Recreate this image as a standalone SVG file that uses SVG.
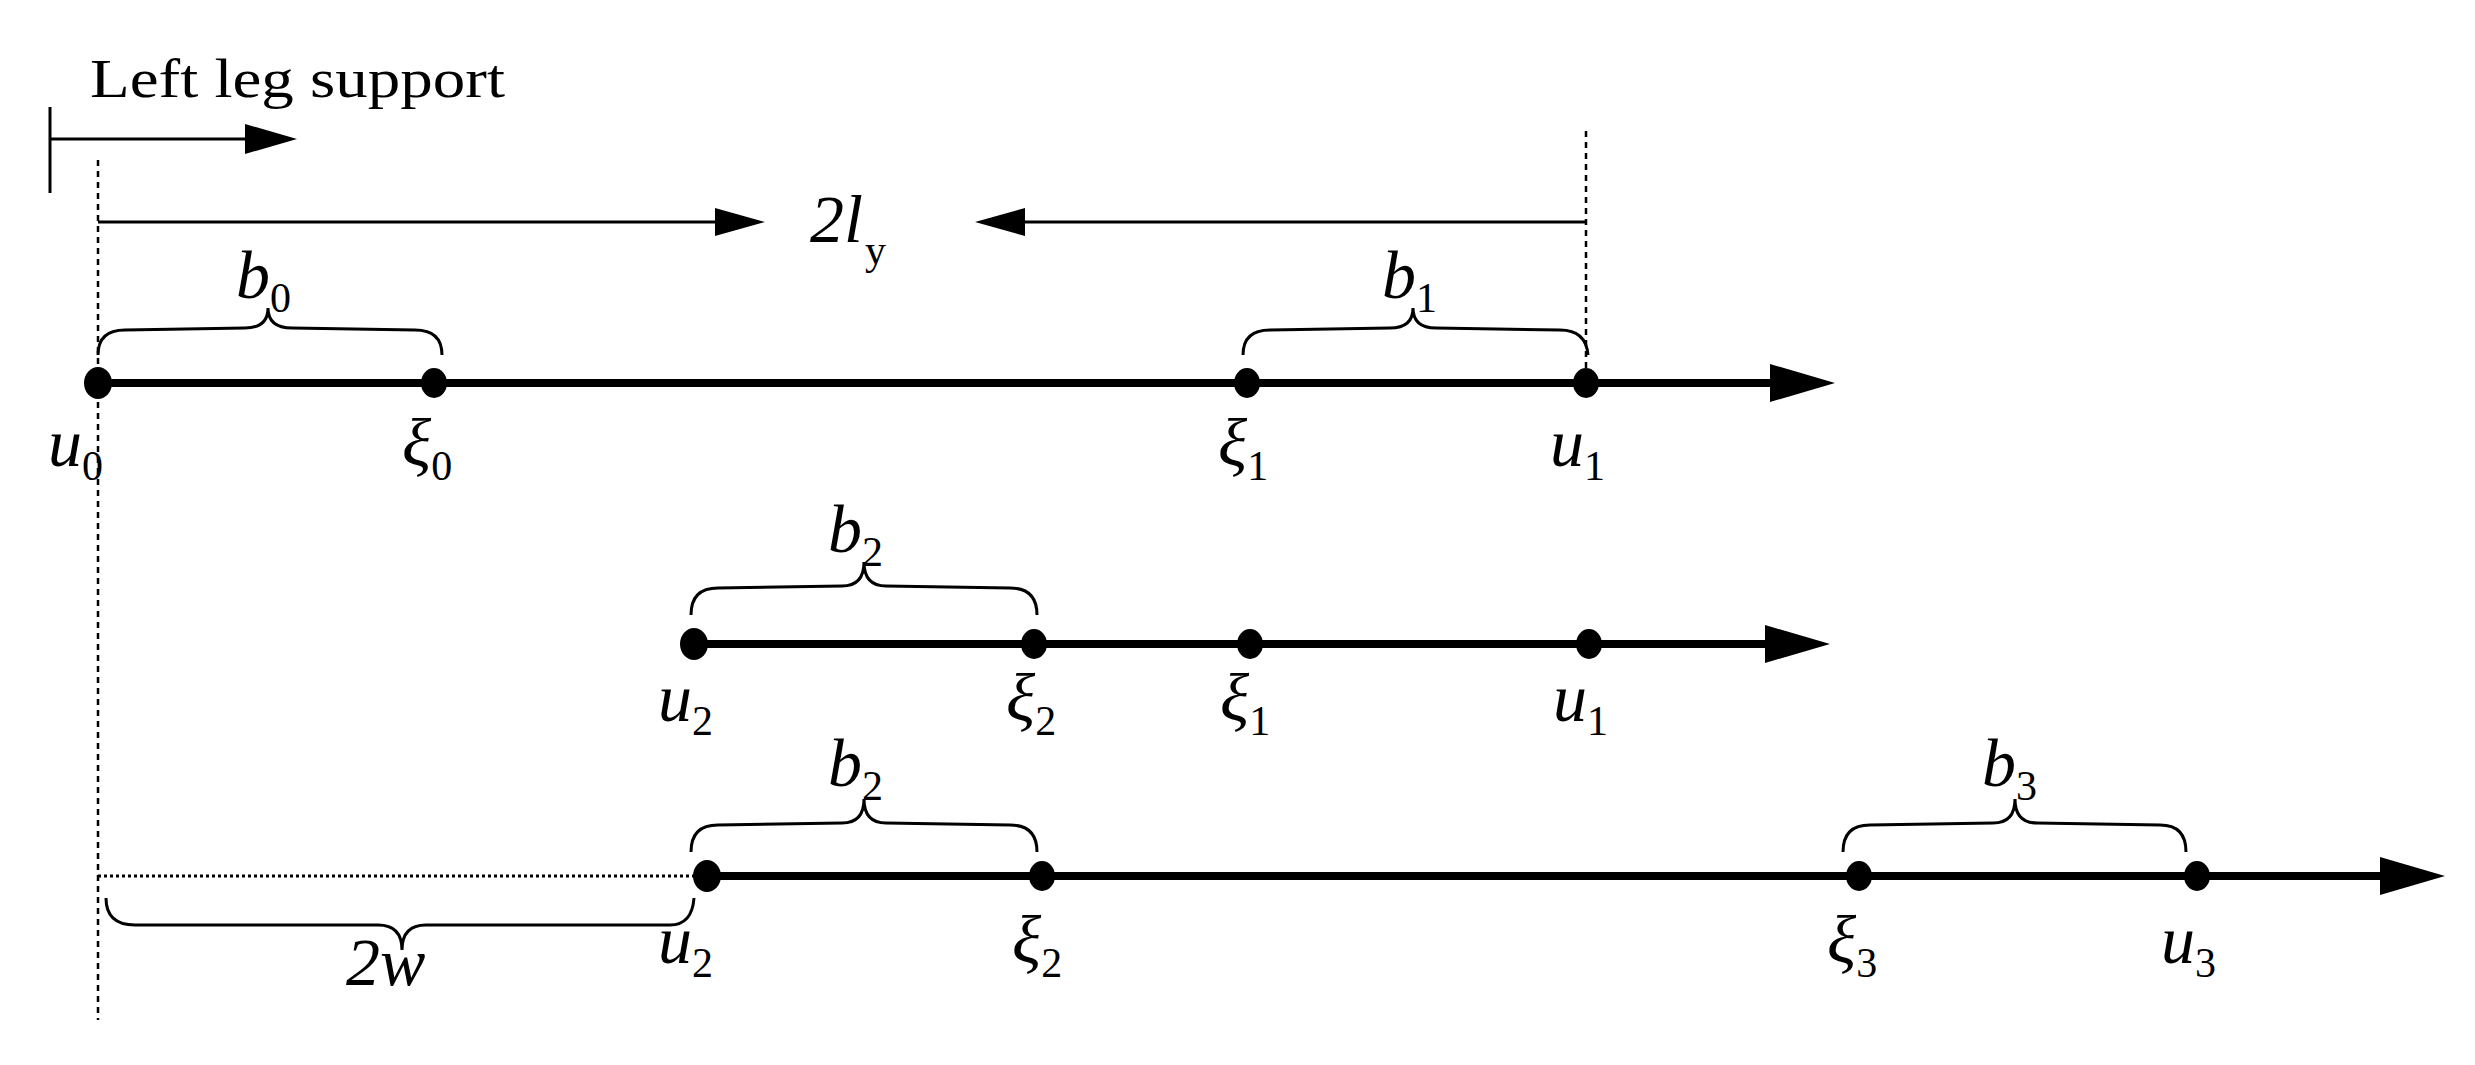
<svg xmlns="http://www.w3.org/2000/svg" width="2475" height="1065" viewBox="0 0 2475 1065">
<style>
.thin{stroke:#000;stroke-width:3;fill:none}
.axis{stroke:#000;stroke-width:8;fill:none}
.dot{stroke:#000;stroke-width:2.5;stroke-dasharray:6 5;fill:none}
.brace{stroke:#000;stroke-width:3;fill:none}
.m{font-family:"Liberation Serif",serif;font-style:italic;font-size:68px}
.s{font-family:"Liberation Serif",serif;font-size:42px;font-style:normal}
.t{font-family:"Liberation Serif",serif;font-size:54px}
.pt{fill:#000}
</style>
<rect width="2475" height="1065" fill="#fff"/>
<g id="connectors">
<line class="thin" x1="50" y1="107" x2="50" y2="193"/>
<line class="thin" x1="50" y1="139" x2="250" y2="139"/>
<path d="M245,124 L297,139 L245,154 Z"/>
<line class="dot" x1="98" y1="160" x2="98" y2="1020"/>
<line class="dot" x1="1586" y1="131" x2="1586" y2="383"/>
<line class="thin" x1="98" y1="222" x2="720" y2="222"/>
<path d="M715,208 L765,222 L715,236 Z"/>
<line class="thin" x1="1020" y1="222" x2="1586" y2="222"/>
<path d="M1025,208 L975,222 L1025,236 Z"/>
<line class="axis" x1="98" y1="383" x2="1780" y2="383"/>
<path d="M1770,364 L1835,383 L1770,402 Z"/>
<line class="axis" x1="694" y1="644" x2="1775" y2="644"/>
<path d="M1765,625 L1830,644 L1765,663 Z"/>
<line class="axis" x1="707" y1="876" x2="2390" y2="876"/>
<path d="M2380,857 L2445,876 L2380,895 Z"/>
<line x1="98" y1="876" x2="707" y2="876" stroke="#000" stroke-width="3" stroke-dasharray="3 3"/>
<path class="brace" d="M98,355 Q98,330 125,330 L245,328 Q268,328 268,308 Q268,328 292,328 L415,330 Q442,330 442,355"/>
<path class="brace" d="M1243,355 Q1243,330 1270,330 L1390,328 Q1413,328 1413,308 Q1413,328 1436,328 L1560,330 Q1586,330 1588,355"/>
<path class="brace" d="M691,615 Q691,588 718,588 L842,586 Q864,586 864,562 Q864,586 886,586 L1010,588 Q1037,588 1037,615"/>
<path class="brace" d="M691,852 Q691,825 718,825 L842,823 Q864,823 864,799 Q864,823 886,823 L1010,825 Q1037,825 1037,852"/>
<path class="brace" d="M1843,852 Q1843,825 1870,825 L1993,823 Q2015,823 2015,799 Q2015,823 2037,823 L2160,825 Q2186,825 2186,852"/>
<path class="brace" d="M106,898 Q106,925 135,925 L378,925 Q402,925 402,950 Q402,925 426,925 L670,925 Q692,925 694,898"/>
</g>
<g id="nodes">
<ellipse class="pt" cx="98" cy="383" rx="14" ry="16"/>
<ellipse class="pt" cx="434" cy="383" rx="13" ry="15"/>
<ellipse class="pt" cx="1247" cy="383" rx="13" ry="15"/>
<ellipse class="pt" cx="1586" cy="383" rx="13" ry="15"/>
<ellipse class="pt" cx="694" cy="644" rx="14" ry="16"/>
<ellipse class="pt" cx="1034" cy="644" rx="13" ry="15"/>
<ellipse class="pt" cx="1250" cy="644" rx="13" ry="15"/>
<ellipse class="pt" cx="1589" cy="644" rx="13" ry="15"/>
<ellipse class="pt" cx="707" cy="876" rx="14" ry="16"/>
<ellipse class="pt" cx="1042" cy="876" rx="13" ry="15"/>
<ellipse class="pt" cx="1859" cy="876" rx="13" ry="15"/>
<ellipse class="pt" cx="2197" cy="876" rx="13" ry="15"/>
</g>
<g id="labels">
<text class="t" x="90" y="97" textLength="415" lengthAdjust="spacingAndGlyphs">Left leg support</text>
<text class="m" x="810" y="242">2l<tspan class="s" font-style="italic" dx="2" dy="22">y</tspan></text>
<text class="m" x="236" y="298">b<tspan class="s" dy="14">0</tspan></text>
<text class="m" x="1382" y="298">b<tspan class="s" dy="14">1</tspan></text>
<text class="m" x="828" y="552">b<tspan class="s" dy="14">2</tspan></text>
<text class="m" x="828" y="786">b<tspan class="s" dy="14">2</tspan></text>
<text class="m" x="1982" y="786">b<tspan class="s" dy="14">3</tspan></text>
<text class="m" x="48" y="466">u<tspan class="s" dy="14">0</tspan></text>
<text class="m" x="402" y="466">ξ<tspan class="s" dy="14">0</tspan></text>
<text class="m" x="1218" y="466">ξ<tspan class="s" dy="14">1</tspan></text>
<text class="m" x="1550" y="466">u<tspan class="s" dy="14">1</tspan></text>
<text class="m" x="658" y="721">u<tspan class="s" dy="14">2</tspan></text>
<text class="m" x="1006" y="721">ξ<tspan class="s" dy="14">2</tspan></text>
<text class="m" x="1220" y="721">ξ<tspan class="s" dy="14">1</tspan></text>
<text class="m" x="1553" y="721">u<tspan class="s" dy="14">1</tspan></text>
<text class="m" x="658" y="963">u<tspan class="s" dy="14">2</tspan></text>
<text class="m" x="1012" y="963">ξ<tspan class="s" dy="14">2</tspan></text>
<text class="m" x="1827" y="963">ξ<tspan class="s" dy="14">3</tspan></text>
<text class="m" x="2161" y="963">u<tspan class="s" dy="14">3</tspan></text>
<text class="m" x="346" y="985">2w</text>
</g>
</svg>
